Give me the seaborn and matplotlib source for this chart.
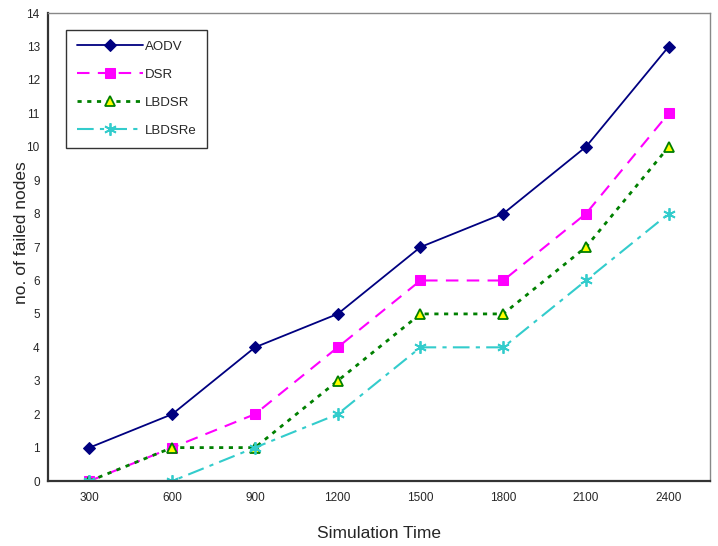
import pandas as pd
import matplotlib
matplotlib.use("Agg")
import matplotlib.pyplot as plt
import seaborn as sns

# data
sim_time = ["300", "600", "900", "1200", "1500", "1800", "2100", "2400"]
aodv = [1, 2, 4, 5, 7, 8, 10, 13]
dsr = [0, 1, 2, 4, 6, 6, 8, 11]
lbdsr = [0, 1, 1, 3, 5, 5, 7, 10]
lbdsre = [0, 0, 1, 2, 4, 4, 6, 8]

sns.set_style("white")
plt.rcParams["font.family"] = ["Liberation Sans", "DejaVu Sans"]

fig = plt.figure(figsize=(7.18, 5.46), dpi=100)
ax = fig.add_axes([0.067, 0.119, 0.922, 0.857])

pos = list(range(len(sim_time)))
styles = [
    ("AODV", aodv, dict(color="#000080", marker="D", markersize=6, linestyle="-", linewidth=1.3,
                        markerfacecolor="#000080", markeredgecolor="#000080")),
    ("DSR", dsr, dict(color="#FF00FF", marker="s", markersize=7, linestyle=(0, (6, 4)), linewidth=1.5,
                      markerfacecolor="#FF00FF", markeredgecolor="#FF00FF")),
    ("LBDSR", lbdsr, dict(color="#008000", marker="^", markersize=7, linestyle=(0, (1.5, 2)), linewidth=2,
                          markerfacecolor="#FFFF00", markeredgecolor="#008000", markeredgewidth=1.3)),
    ("LBDSRe", lbdsre, dict(color="#33CCCC", marker=(6, 2, 0), markersize=9, linestyle=(0, (8, 3, 2, 3)),
                            linewidth=1.5, markeredgecolor="#33CCCC", markeredgewidth=1.3)),
]

for name, vals, kw in styles:
    df = pd.DataFrame({"x": pos, "y": vals})
    sns.lineplot(data=df, x="x", y="y", ax=ax, label=name, **kw)

ax.set_xlim(-0.5, len(sim_time) - 0.5)
ax.set_ylim(0, 14)
ax.set_yticks(range(0, 15))
ax.set_xticks([p - 0.5 for p in pos] + [len(sim_time) - 0.5])
ax.set_xticklabels([])
ax.set_xticks(pos, minor=True)
ax.set_xticklabels(sim_time, minor=True)
ax.tick_params(axis="x", which="major", direction="out", length=4, color="#333333")
ax.tick_params(axis="x", which="minor", length=0, labelsize=8.5, pad=8)
ax.tick_params(axis="y", direction="out", length=4, pad=2, labelsize=8.5, color="#333333")
ax.set_xlabel("Simulation Time", fontsize=12.5, labelpad=16)
ax.set_ylabel("no. of failed nodes", fontsize=12.5)
ax.yaxis.set_label_coords(-0.029, 0.53)

for side in ["left", "bottom"]:
    ax.spines[side].set_color("#333333")
    ax.spines[side].set_linewidth(1.6)
for side in ["right", "top"]:
    ax.spines[side].set_color("#888888")
    ax.spines[side].set_linewidth(1.0)

leg = ax.legend(loc="upper left", bbox_to_anchor=(0.027, 0.964), borderaxespad=0, frameon=True,
                fancybox=False, edgecolor="black", fontsize=9.5, handlelength=5.0, labelspacing=1.2,
                borderpad=0.8, handletextpad=0.2)
leg.get_frame().set_linewidth(1.0)

fig.savefig("out.png", dpi=100)
